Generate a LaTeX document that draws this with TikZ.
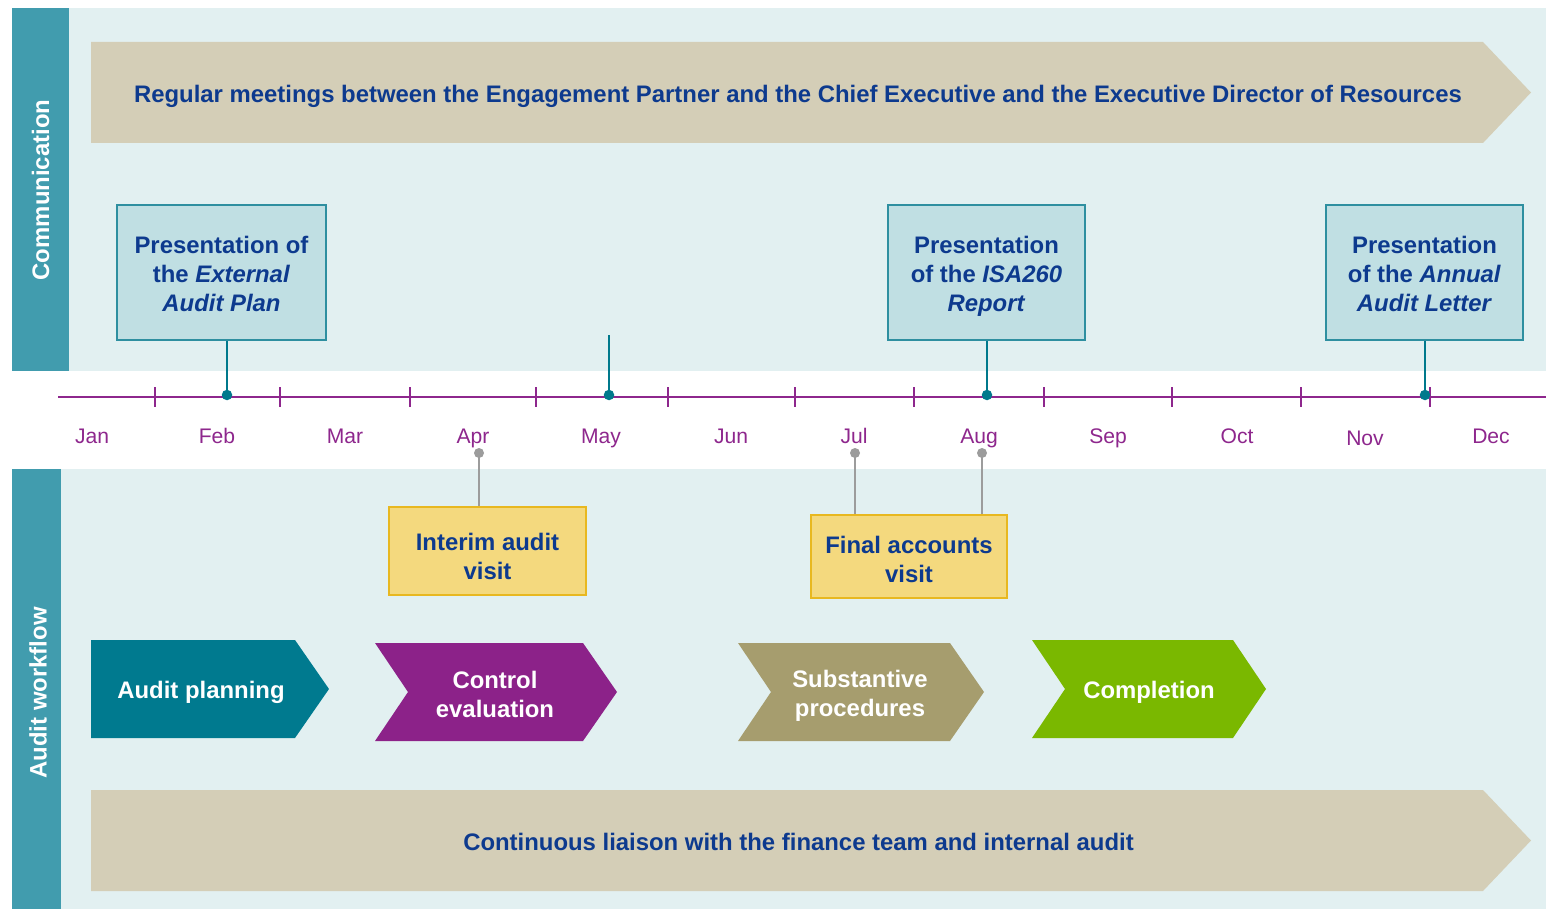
\documentclass[tikz,border=0pt]{standalone}
\usepackage{fontspec}
\setmainfont{Liberation Sans}
\definecolor{cSide}{HTML}{419CAE}
\definecolor{cPanel}{HTML}{E2F0F1}
\definecolor{cBeige}{HTML}{D4CEB7}
\definecolor{cNavy}{HTML}{0D3A8E}
\definecolor{cBoxBlue}{HTML}{C0DFE3}
\definecolor{cBoxBorder}{HTML}{2E8FA0}
\definecolor{cLine}{HTML}{8E278D}
\definecolor{cDot}{HTML}{00798C}
\definecolor{cGray}{HTML}{9C9C9C}
\definecolor{cYellow}{HTML}{F4D97E}
\definecolor{cYellowBorder}{HTML}{E8B820}
\definecolor{cChTeal}{HTML}{007A8F}
\definecolor{cChPurple}{HTML}{8C2289}
\definecolor{cChOlive}{HTML}{A69D6E}
\definecolor{cChGreen}{HTML}{7AB800}
\tikzset{
  bigtxt/.style={font=\fontsize{13.6}{16.5}\selectfont\bfseries, align=center, inner sep=0pt},
  navytxt/.style={bigtxt, text=cNavy},
  whitetxt/.style={bigtxt, text=white},
  pbox/.style={navytxt, draw=cBoxBorder, line width=0.7pt, fill=cBoxBlue},
  ybox/.style={navytxt, draw=cYellowBorder, line width=0.7pt, fill=cYellow},
  month/.style={font=\fontsize{12}{14}\selectfont, text=cLine, inner sep=0pt, anchor=base},
  tline/.style={draw=cLine, line width=1.7pt},
  tick/.style={draw=cLine, line width=1.3pt},
  tconn/.style={draw=cDot, line width=1.4pt},
  gconn/.style={draw=cGray, line width=1.4pt},
}
\begin{document}
\begin{tikzpicture}[x=0.02cm,y=-0.02cm]
\useasboundingbox (0,0) rectangle (1546,909);
\fill[white] (0,0) rectangle (1546,909);
% panels
\fill[cPanel] (69,8) rectangle (1546,371);
\fill[cSide] (12,8) rectangle (69,371);
\fill[cPanel] (61,469) rectangle (1546,909);
\fill[cSide] (12,469) rectangle (61,909);
\node[whitetxt, rotate=90] (comm) at (40.5,190) {Communication};
\node[whitetxt, rotate=90] (wf) at (38,693) {Audit workflow};
% banners
\fill[cBeige] (91,42) -- (1483,42) -- (1531,92.5) -- (1483,143) -- (91,143) -- cycle;
\node[navytxt] (meet) at (798,96.5) {Regular meetings between the Engagement Partner and the Chief Executive and the Executive Director of Resources};
\fill[cBeige] (91,790) -- (1483,790) -- (1531,840.5) -- (1483,891) -- (91,891) -- cycle;
\node[navytxt] (liaison) at (798.5,842) {Continuous liaison with the finance team and internal audit};
% timeline
\coordinate (tlA) at (58,397);
\coordinate (tlB) at (1546,397);
\draw[tline] (tlA) -- (tlB);
\foreach \x in {155,280,410,536,668,795,914,1044,1172,1301,1430}{
  \draw[tick] (\x,387) -- (\x,407);
}
\node[month] (mJan) at (92,443.5) {Jan};
\node[month] (mFeb) at (217,443.5) {Feb};
\node[month] (mMar) at (345,443.5) {Mar};
\node[month] (mApr) at (473,443.5) {Apr};
\node[month] (mMay) at (601,443.5) {May};
\node[month] (mJun) at (731,443.5) {Jun};
\node[month] (mJul) at (854,443.5) {Jul};
\node[month] (mAug) at (979,443.5) {Aug};
\node[month] (mSep) at (1108,443.5) {Sep};
\node[month] (mOct) at (1237,443.5) {Oct};
\node[month] (mNov) at (1365,445.5) {Nov};
\node[month] (mDec) at (1491,443.5) {Dec};
% presentation boxes
\node[pbox, minimum width=4.18cm, minimum height=2.7cm] (ext) at (221.5,272.5) {};
\node[navytxt] (extT) at (221.5,273.5) {Presentation of\\the \textit{External}\\\textit{Audit Plan}};
\node[pbox, minimum width=3.94cm, minimum height=2.7cm] (isa) at (986.5,272.5) {};
\node[navytxt] (isaT) at (986.5,276.5) {Presentation\\of the \textit{ISA260}\\\textit{Report}};
\node[pbox, minimum width=3.94cm, minimum height=2.7cm] (ann) at (1424.5,272.5) {};
\node[navytxt] (annT) at (1424.5,273.5) {Presentation\\of the \textit{Annual}\\\textit{Audit Letter}};
\coordinate (dFeb) at (227,395);
\coordinate (dMay) at (609,395);
\coordinate (mayTop) at (609,335);
\coordinate (dAug) at (987,395);
\coordinate (dNov) at (1425,395);
\draw[tconn] (ext.south -| dFeb) -- (dFeb);
\draw[tconn] (mayTop) -- (dMay);
\draw[tconn] (isa.south -| dAug) -- (dAug);
\draw[tconn] (ann.south -| dNov) -- (dNov);
\foreach \c in {dFeb,dMay,dAug,dNov}{\fill[cDot] (\c) circle[radius=0.105cm];}
% visit boxes
\node[ybox, minimum width=3.94cm, minimum height=1.76cm] (interim) at (487.5,551) {};
\node[navytxt] (interimT) at (487.5,556) {Interim audit\\visit};
\node[ybox, minimum width=3.92cm, minimum height=1.66cm] (final) at (909,556.5) {};
\node[navytxt] (finalT) at (909,559) {Final accounts\\visit};
\coordinate (gApr) at (479,453);
\coordinate (gJul) at (855,453);
\coordinate (gAug) at (982,453);
\draw[gconn] (gApr) -- (interim.north -| gApr);
\draw[gconn] (gJul) -- (final.north -| gJul);
\draw[gconn] (gAug) -- (final.north -| gAug);
\foreach \c in {gApr,gJul,gAug}{\fill[cGray] (\c) circle[radius=0.1cm];}
% chevrons
\fill[cChTeal] (91,640) -- (295,640) -- (329,689) -- (295,738) -- (91,738) -- cycle;
\node[whitetxt] (plan) at (201,692) {Audit planning};
\fill[cChPurple] (375,643) -- (583,643) -- (617,692) -- (583,741) -- (375,741) -- (408,692) -- cycle;
\node[whitetxt] (ctrl) at (495,694) {Control\\evaluation};
\fill[cChOlive] (738,643) -- (950,643) -- (984,692) -- (950,741) -- (738,741) -- (771,692) -- cycle;
\node[whitetxt] (subst) at (860,696) {Substantive\\procedures};
\fill[cChGreen] (1032,640) -- (1233,640) -- (1266,689) -- (1233,738) -- (1032,738) -- (1065,689) -- cycle;
\node[whitetxt] (compl) at (1149,692) {Completion};
\end{tikzpicture}
\end{document}
